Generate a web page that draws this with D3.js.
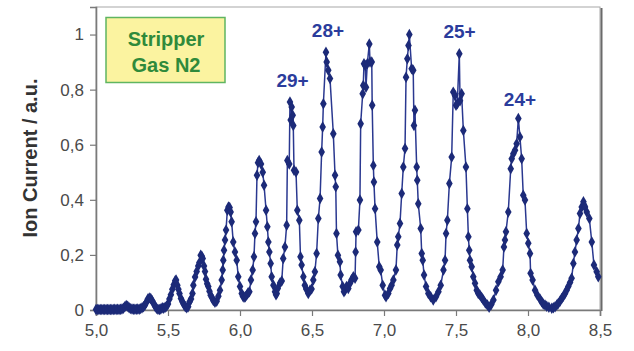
<!DOCTYPE html>
<html><head><meta charset="utf-8">
<script src="https://cdn.jsdelivr.net/npm/d3@7"></script>
<style>html,body{margin:0;padding:0;background:#fff;}svg{display:block;}</style>
</head><body>
<svg id="c" width="634" height="351"></svg>
<script>
const energy = [
5.000,5.010,5.020,5.030,5.040,5.050,5.060,5.070,5.080,5.090,5.100,5.110,5.120,5.130,5.140,5.150,5.160,5.170,5.180,5.190,
5.200,5.210,5.220,5.230,5.240,5.250,5.260,5.270,5.280,5.290,5.300,5.310,5.320,5.330,5.340,5.350,5.360,5.370,5.380,5.390,
5.400,5.410,5.420,5.430,5.440,5.450,5.460,5.470,5.480,5.490,5.500,5.510,5.520,5.530,5.540,5.550,5.556,5.565,5.572,5.580,
5.590,5.600,5.610,5.620,5.630,5.640,5.650,5.660,5.670,5.676,5.688,5.699,5.710,5.718,5.727,5.735,5.741,5.750,5.757,5.764,
5.772,5.780,5.788,5.796,5.805,5.815,5.826,5.838,5.850,5.861,5.873,5.880,5.884,5.889,5.896,5.903,5.912,5.920,5.928,5.935,
5.942,5.953,5.965,5.977,5.988,6.000,6.012,6.020,6.028,6.037,6.046,6.055,6.065,6.076,6.088,6.097,6.104,6.111,6.118,6.125,
6.133,6.146,6.158,6.167,6.181,6.190,6.197,6.204,6.213,6.220,6.232,6.243,6.250,6.255,6.262,6.278,6.290,6.300,6.312,6.324,
6.329,6.342,6.347,6.352,6.359,6.366,6.370,6.375,6.389,6.398,6.412,6.420,6.428,6.440,6.450,6.460,6.474,6.486,6.497,6.509,
6.520,6.532,6.544,6.556,6.567,6.574,6.579,6.597,6.602,6.613,6.625,6.648,6.660,6.665,6.670,6.680,6.694,6.699,6.713,6.722,
6.729,6.740,6.752,6.764,6.775,6.787,6.799,6.803,6.806,6.822,6.833,6.838,6.852,6.856,6.861,6.870,6.875,6.884,6.898,6.903,
6.915,6.918,6.926,6.930,6.938,6.953,6.967,6.977,6.991,7.007,7.014,7.030,7.042,7.053,7.065,7.083,7.092,7.099,7.111,7.123,
7.134,7.146,7.153,7.162,7.170,7.176,7.192,7.203,7.208,7.215,7.227,7.231,7.238,7.255,7.262,7.269,7.278,7.292,7.308,7.324,
7.342,7.361,7.378,7.394,7.413,7.424,7.431,7.440,7.454,7.470,7.481,7.493,7.500,7.509,7.523,7.528,7.539,7.551,7.569,7.579,
7.586,7.592,7.597,7.609,7.620,7.632,7.644,7.655,7.667,7.678,7.690,7.704,7.718,7.730,7.745,7.760,7.778,7.794,7.810,7.824,
7.833,7.840,7.847,7.863,7.880,7.887,7.898,7.910,7.921,7.933,7.944,7.956,7.967,7.979,7.991,8.002,8.014,8.018,8.032,8.049,
8.065,8.083,8.095,8.106,8.118,8.130,8.145,8.165,8.176,8.188,8.200,8.210,8.222,8.234,8.245,8.257,8.268,8.280,8.292,8.303,
8.315,8.326,8.338,8.350,8.361,8.373,8.385,8.390,8.396,8.408,8.426,8.443,8.458,8.477,8.488
];
const ionCurrent = [
0.002,0.002,0.002,0.002,0.002,0.002,0.002,0.002,0.002,0.002,0.002,0.002,0.002,0.003,0.002,0.003,0.002,0.003,0.004,0.006,
0.012,0.016,0.014,0.008,0.005,0.004,0.003,0.003,0.003,0.004,0.003,0.005,0.008,0.012,0.018,0.028,0.040,0.044,0.042,0.034,
0.024,0.014,0.006,0.003,0.002,0.004,0.008,0.006,0.010,0.014,0.022,0.040,0.055,0.075,0.092,0.106,0.109,0.090,0.075,0.060,
0.042,0.030,0.020,0.012,0.008,0.012,0.030,0.040,0.060,0.090,0.120,0.140,0.160,0.172,0.199,0.195,0.187,0.160,0.140,0.112,
0.095,0.085,0.068,0.054,0.045,0.034,0.028,0.032,0.050,0.072,0.109,0.145,0.181,0.217,0.254,0.290,0.362,0.374,0.372,0.356,
0.320,0.247,0.211,0.181,0.121,0.085,0.060,0.050,0.046,0.048,0.054,0.062,0.066,0.109,0.145,0.193,0.278,0.320,0.489,0.535,
0.543,0.530,0.500,0.453,0.362,0.302,0.247,0.211,0.169,0.121,0.090,0.066,0.055,0.060,0.078,0.098,0.105,0.187,0.229,0.308,
0.543,0.530,0.755,0.690,0.737,0.707,0.670,0.507,0.501,0.362,0.326,0.193,0.163,0.121,0.090,0.076,0.060,0.072,0.076,0.109,
0.139,0.205,0.332,0.405,0.574,0.664,0.749,0.936,0.900,0.870,0.840,0.640,0.489,0.447,0.278,0.199,0.175,0.127,0.085,0.066,
0.072,0.085,0.078,0.097,0.110,0.121,0.115,0.211,0.284,0.290,0.399,0.676,0.785,0.815,0.894,0.888,0.809,0.894,0.966,0.900,
0.900,0.743,0.525,0.465,0.368,0.247,0.157,0.145,0.090,0.054,0.048,0.060,0.078,0.090,0.109,0.145,0.236,0.266,0.314,0.423,
0.519,0.586,0.845,0.912,0.960,1.000,0.876,0.870,0.670,0.725,0.519,0.471,0.386,0.296,0.205,0.181,0.127,0.085,0.060,0.048,
0.036,0.048,0.066,0.090,0.145,0.181,0.278,0.326,0.459,0.555,0.791,0.779,0.743,0.749,0.930,0.760,0.785,0.652,0.519,0.368,
0.266,0.217,0.181,0.157,0.121,0.097,0.072,0.060,0.054,0.045,0.036,0.025,0.018,0.010,0.020,0.036,0.072,0.103,0.121,0.145,
0.229,0.254,0.284,0.356,0.513,0.549,0.567,0.580,0.604,0.695,0.628,0.549,0.417,0.399,0.278,0.242,0.205,0.133,0.109,0.072,
0.054,0.040,0.030,0.022,0.018,0.014,0.010,0.006,0.008,0.012,0.018,0.024,0.032,0.042,0.050,0.060,0.072,0.085,0.100,0.115,
0.169,0.211,0.254,0.296,0.350,0.374,0.393,0.380,0.374,0.356,0.332,0.247,0.163,0.139,0.121
];
const xTicks = [5.0,5.5,6.0,6.5,7.0,7.5,8.0,8.5];
const yTicks = [0,0.2,0.4,0.6,0.8,1];
const peakLabels = ["29+","28+","25+","24+"];
const peakPos = [[6.365,0.81],[6.611,0.99],[7.525,0.988],[7.944,0.74]];
const legendLines = ["Stripper","Gas N2"];
const yTitle = "Ion Current / a.u.";

const svg = d3.select("#c");
const m = {l:96, r:34, t:7, b:41};
const W = 634, H = 351;
const x = d3.scaleLinear().domain([5.0,8.5]).range([m.l, W-m.r]);
const y = d3.scaleLinear().domain([0,1.1]).range([H-m.b, m.t]);
const FONT = "Liberation Sans, Arial, sans-serif";

// frame (top & right)
svg.append("rect").attr("x",x(5)).attr("y",y(1.1)).attr("width",x(8.5)-x(5)).attr("height",y(0)-y(1.1))
  .attr("fill","none").attr("stroke","#a8a8a8").attr("stroke-width",1);
svg.append("line").attr("x1",x(8.5)+1.5).attr("x2",x(8.5)+1.5).attr("y1",y(1.1)+1).attr("y2",y(0)+1)
  .attr("stroke","#6a6a6a").attr("stroke-width",2);

const xAxis = svg.append("g").attr("transform",`translate(0,${y(0)})`)
  .call(d3.axisBottom(x).tickValues(xTicks).tickSize(6).tickPadding(8).tickFormat(d=>d.toFixed(1).replace(".",",")));
const yAxis = svg.append("g").attr("transform",`translate(${x(5)},0)`)
  .call(d3.axisLeft(y).tickValues(yTicks).tickSize(6).tickPadding(6).tickFormat(d=> d===0?"0":d===1?"1":d.toFixed(1).replace(".",",")));
[xAxis,yAxis].forEach(g=>{
  g.select(".domain").attr("stroke","#7a7a7a").attr("stroke-width",1.6);
  g.selectAll(".tick line").attr("stroke","#7a7a7a").attr("stroke-width",1.2);
  g.selectAll("text").attr("fill","#4a4a4a").style("font-family",FONT).style("font-size","17px");
});

const pts = energy.map((e,i)=>[e, ionCurrent[i]]);
svg.append("path").datum(pts)
  .attr("d", d3.line().x(d=>x(d[0])).y(d=>y(d[1])))
  .attr("fill","none").attr("stroke","#2a3890").attr("stroke-width",1.5);
const sym = d3.symbol().type(d3.symbolDiamond).size(38);
svg.append("g").selectAll("path").data(pts).join("path")
  .attr("transform", d=>`translate(${x(d[0])},${y(d[1])})`)
  .attr("d", sym).attr("fill","#1c2a78");

// peak labels
svg.append("g").selectAll("text").data(peakLabels).join("text")
  .attr("x",(d,i)=>x(peakPos[i][0])).attr("y",(d,i)=>y(peakPos[i][1]))
  .attr("text-anchor","middle")
  .style("font-family",FONT).style("font-weight","bold").style("font-size","19px")
  .attr("fill","#2b3c9c").text(d=>d);

// legend box
svg.append("rect").attr("x",106).attr("y",17.5).attr("width",119).attr("height",65)
  .attr("fill","#fbf3a0").attr("stroke","#5fb561").attr("stroke-width",1.5);
svg.append("g").selectAll("text").data(legendLines).join("text")
  .attr("x",166).attr("y",(d,i)=>46+i*26).attr("text-anchor","middle")
  .style("font-family",FONT).style("font-weight","bold").style("font-size","20px")
  .attr("fill","#2f8a3b").text(d=>d);

// y title
svg.append("text").attr("transform","translate(37,158) rotate(-90)").attr("text-anchor","middle")
  .style("font-family",FONT).style("font-weight","bold").style("font-size","20px")
  .attr("fill","#333").text(yTitle);
</script>
</body></html>
